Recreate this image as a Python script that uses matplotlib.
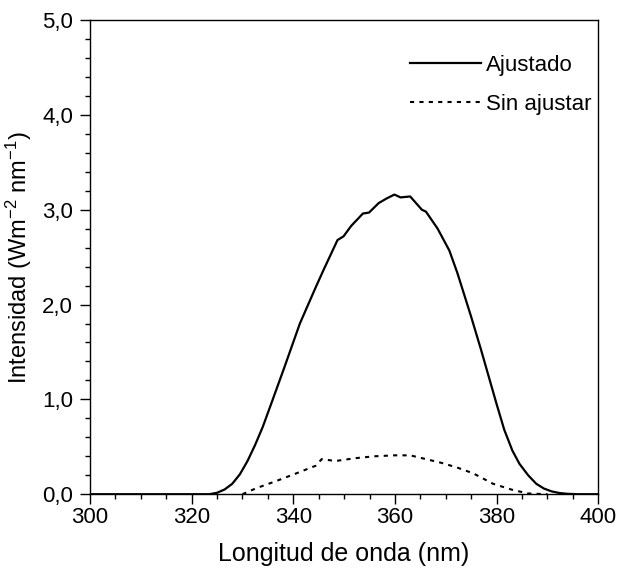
"""
Espectro de intensidad UV: curva ajustada frente a curva sin ajustar.
"""

import matplotlib
matplotlib.use("Agg")
import matplotlib.pyplot as plt
from matplotlib.ticker import MultipleLocator, FuncFormatter

plt.rcParams["font.family"] = ["Liberation Sans", "DejaVu Sans"]
plt.rcParams["mathtext.default"] = "regular"

# valores
wl_adj = [300, 310, 320, 323.5, 325, 326.5, 328, 329.5, 331, 332.5, 334,
          335.5, 338.2, 341.3, 344.4, 346, 348.7, 349.9, 351.4, 353.7, 354.9,
          356.8, 358.4, 359.9, 361.1, 363, 365.3, 366.1, 368.4, 370.7, 372.3,
          375, 376.9, 380, 381.5, 383.1, 384.5, 386.2, 387.8, 389.3, 390.8,
          392.4, 394, 396, 400]
int_adj = [0.0, 0.0, 0.0, 0.0, 0.015, 0.05, 0.11, 0.21, 0.35, 0.52, 0.71,
           0.93, 1.33, 1.80, 2.18, 2.37, 2.68, 2.72, 2.83, 2.96, 2.97,
           3.07, 3.12, 3.16, 3.13, 3.14, 3.0, 2.98, 2.80, 2.57, 2.33,
           1.87, 1.53, 0.95, 0.68, 0.46, 0.32, 0.20, 0.11, 0.06, 0.03,
           0.012, 0.004, 0.0, 0.0]

wl_raw = [330, 332.8, 336.7, 340.6, 344.4, 345.6, 348.3, 352.2, 356, 359.9,
          363, 366.1, 369.2, 372.3, 375.4, 379.3, 383.1, 386.2, 390]
int_raw = [0.0, 0.065, 0.14, 0.22, 0.30, 0.37, 0.35, 0.38, 0.40, 0.41,
           0.41, 0.37, 0.33, 0.28, 0.22, 0.11, 0.046, 0.008, 0.0]

labels = ["Ajustado", "Sin ajustar"]


def comma(v, pos):
    return f"{v:.1f}".replace(".", ",")


fig = plt.figure(figsize=(6.2, 5.74), dpi=100)
ax = fig.add_axes([0.145, 0.139, 0.820, 0.826])

ax.plot(wl_adj, int_adj, color="black", linewidth=1.6, label=labels[0])
ax.plot(wl_raw, int_raw, color="black", linewidth=1.5,
        linestyle=(0, (2, 2.5)), label=labels[1])

ax.set_xlim(300, 400)
ax.set_ylim(0, 5)
ax.xaxis.set_major_locator(MultipleLocator(20))
ax.xaxis.set_minor_locator(MultipleLocator(5))
ax.yaxis.set_major_locator(MultipleLocator(1))
ax.yaxis.set_minor_locator(MultipleLocator(0.2))
ax.yaxis.set_major_formatter(FuncFormatter(comma))

ax.tick_params(which="both", direction="out", top=False, right=False,
               labelsize=16, width=1.0)
ax.tick_params(which="major", length=7)
ax.tick_params(which="minor", length=3.5)
ax.tick_params(axis="x", pad=2)
ax.tick_params(axis="y", pad=5)
for s in ax.spines.values():
    s.set_linewidth(1.0)

ax.set_xlabel("Longitud de onda (nm)", fontsize=18, labelpad=10)
ax.set_ylabel(r"Intensidad (Wm$^{-2}$ nm$^{-1}$)", fontsize=17, labelpad=6)

ax.legend(loc="upper right", bbox_to_anchor=(1.005, 0.945), frameon=False,
          fontsize=16, handlelength=3.2, handletextpad=0.25,
          labelspacing=0.8, borderaxespad=0)

fig.savefig("out.png", dpi=100)
